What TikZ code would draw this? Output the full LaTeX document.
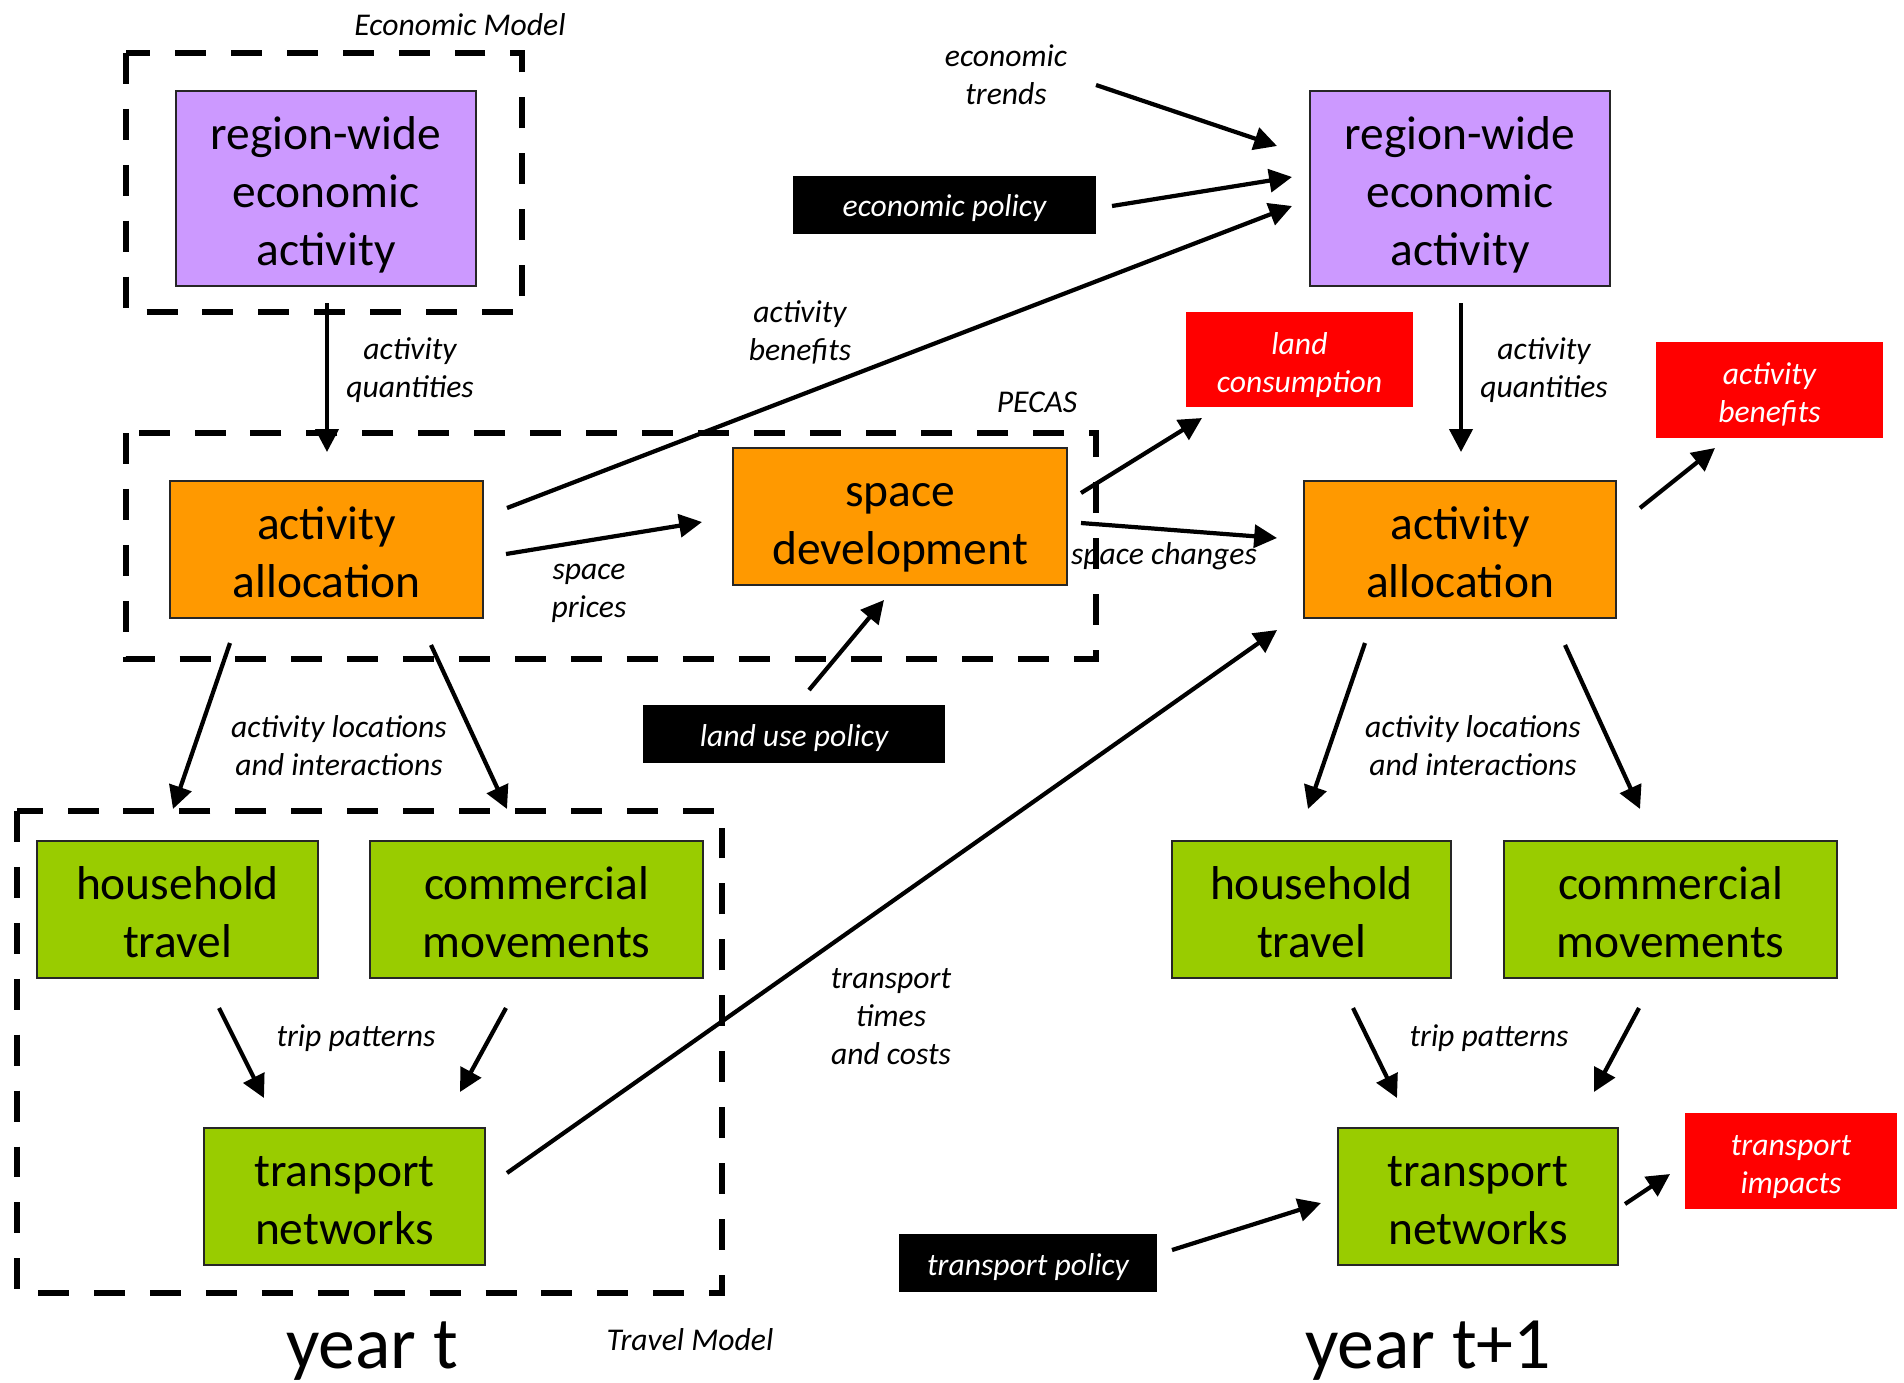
\documentclass[tikz,border=0pt]{standalone}
\usepackage{fontspec}
\setmainfont{Carlito}
\usetikzlibrary{arrows.meta}
\newcommand\bxfont{\fontsize{13.5}{16.4}\selectfont}
\newcommand\lbfont{\fontsize{9}{10.8}\selectfont\itshape}
\newcommand\yrfont{\fontsize{21}{25}\selectfont}
\newcommand\tl[2][-2.1pt]{\raisebox{#1}[\height][\depth]{\begin{tabular}{@{}c@{}}#2\end{tabular}}}
\definecolor{cpurple}{HTML}{CC99FF}
\definecolor{corange}{HTML}{FF9900}
\definecolor{cgreen}{HTML}{99CC00}
\definecolor{cred}{HTML}{FF0000}
\begin{document}
\begin{tikzpicture}[x=0.01cm,y=-0.01cm,
  box/.style={draw=black!85, line width=0.6pt, inner sep=0pt, font=\bxfont},
  pbox/.style={box, fill=cpurple},
  obox/.style={box, fill=corange},
  gbox/.style={box, fill=cgreen},
  rbox/.style={fill=cred, inner sep=0pt, text=white, font=\lbfont},
  kbox/.style={fill=black, inner sep=0pt, text=white, font=\lbfont},
  lbl/.style={inner sep=0pt, align=center, font=\lbfont},
  grp/.style={line width=1.5pt, dash pattern=on 8.8pt off 7.1pt},
  arr/.style={line width=1.2pt, -{Triangle[length=6.5pt,width=6.5pt]}}
]
\useasboundingbox (0,0) rectangle (1904,1382);

% group frames
\draw[grp] (126,53) rectangle (522,312);
\draw[grp] (126,433) rectangle (1096,659);
\draw[grp] (17,811) rectangle (722,1293);
\node[lbl] (lEM) at (460,25) {Economic Model};
\node[lbl] (lPE) at (1037,402) {PECAS};
\node[lbl] (lTM) at (690,1340) {Travel Model};

% year t
\node[pbox, minimum width=3cm, minimum height=1.95cm] (ecoL) at (326,188.5) {\tl{region-wide\\economic\\activity}};
\node[obox, minimum width=3.13cm, minimum height=1.37cm] (aaL) at (326.5,549.5) {\tl{activity\\allocation}};
\node[obox, minimum width=3.34cm, minimum height=1.37cm] (sd) at (900,516.5) {\tl{space\\development}};
\node[gbox, minimum width=2.81cm, minimum height=1.37cm] (htL) at (177.5,909.5) {\tl{household\\travel}};
\node[gbox, minimum width=3.33cm, minimum height=1.37cm] (cmL) at (536.5,909.5) {\tl{commercial\\movements}};
\node[gbox, minimum width=2.81cm, minimum height=1.37cm] (tnL) at (344.5,1196.4) {\tl{transport\\networks}};

% year t+1
\node[pbox, minimum width=3cm, minimum height=1.95cm] (ecoR) at (1460,188.5) {\tl{region-wide\\economic\\activity}};
\node[obox, minimum width=3.12cm, minimum height=1.37cm] (aaR) at (1460,549.5) {\tl{activity\\allocation}};
\node[gbox, minimum width=2.79cm, minimum height=1.37cm] (htR) at (1311.5,909.5) {\tl{household\\travel}};
\node[gbox, minimum width=3.33cm, minimum height=1.37cm] (cmR) at (1670.5,909.5) {\tl{commercial\\movements}};
\node[gbox, minimum width=2.80cm, minimum height=1.37cm] (tnR) at (1478,1196.4) {\tl{transport\\networks}};

% policies and outputs
\node[kbox, minimum width=3.03cm, minimum height=0.58cm] (ecopol) at (944.5,205) {\tl[-1.25pt]{economic policy}};
\node[kbox, minimum width=3.02cm, minimum height=0.58cm] (lup) at (794,734) {\tl[-1.25pt]{land use policy}};
\node[kbox, minimum width=2.58cm, minimum height=0.575cm] (trpol) at (1028,1263.2) {\tl[-1.25pt]{transport policy}};
\node[rbox, minimum width=2.27cm, minimum height=0.95cm] (landc) at (1299.5,359.5) {\tl[-1.8pt]{land\\consumption}};
\node[rbox, minimum width=2.27cm, minimum height=0.96cm] (actben) at (1769.5,390) {\tl[-1.8pt]{activity\\benefits}};
\node[rbox, minimum width=2.12cm, minimum height=0.957cm] (trimp) at (1791,1160.9) {\tl[-1.8pt]{transport\\impacts}};
\node[lbl] (trends) at (1006,74.5) {economic\\trends};

% connector labels
\node[lbl] (lq1) at (410,370.5) {activity\\quantities};
\node[lbl] (lq2) at (1544,370.5) {activity\\quantities};
\node[lbl] (lab) at (800,332.5) {activity\\benefits};
\node[lbl] (lsp) at (589,593.5) {space\\prices};
\node[lbl] (lsc) at (1164,556) {space changes};
\node[lbl] (lloc1) at (339,746) {activity locations\\and interactions};
\node[lbl] (lloc2) at (1473,746) {activity locations\\and interactions};
\node[lbl] (ltp1) at (356,1038.5) {trip patterns};
\node[lbl] (ltp2) at (1489,1038.5) {trip patterns};
\node[lbl] (ltt) at (891,1016.5) {transport\\times\\and costs};
\node[font=\yrfont, anchor=base, inner sep=0pt] (yt) at (372,1368) {year t};
\node[font=\yrfont, anchor=base, inner sep=0pt] (yt1) at (1428,1368) {year t+1};

% connector end points
\coordinate (c1s) at (327,303);   \coordinate (c1e) at (327,452);
\coordinate (c2s) at (507,508);   \coordinate (c2e) at (1292,206);
\coordinate (c3s) at (506,554);   \coordinate (c3e) at (702,522);
\coordinate (c4s) at (1096,85);   \coordinate (c4e) at (1277,146);
\coordinate (c5s) at (1112,206);  \coordinate (c5e) at (1292,177);
\coordinate (c6s) at (1461,303);  \coordinate (c6e) at (1461,452);
\coordinate (c7s) at (1081,493);  \coordinate (c7e) at (1202,418);
\coordinate (c8s) at (1081,523);  \coordinate (c8e) at (1277,538);
\coordinate (c9s) at (1640,508);  \coordinate (c9e) at (1715,448);
\coordinate (c10s) at (809,690);  \coordinate (c10e) at (884,600);
\coordinate (c11s) at (507,1173); \coordinate (c11e) at (1277,630);
\coordinate (c12s) at (230,643);  \coordinate (c12e) at (173,809);
\coordinate (c13s) at (431,645);  \coordinate (c13e) at (507,809);
\coordinate (c14s) at (219,1008); \coordinate (c14e) at (264,1098);
\coordinate (c15s) at (506,1008); \coordinate (c15e) at (460,1092);
\coordinate (c16s) at (1365,643); \coordinate (c16e) at (1308,809);
\coordinate (c17s) at (1565,645); \coordinate (c17e) at (1640,809);
\coordinate (c18s) at (1353,1008);\coordinate (c18e) at (1397,1098);
\coordinate (c19s) at (1639,1008);\coordinate (c19e) at (1594,1092);
\coordinate (c20s) at (1172,1250);\coordinate (c20e) at (1321,1203);
\coordinate (c21s) at (1625,1204);\coordinate (c21e) at (1670,1174);

\foreach \i in {1,...,21} {\draw[arr] (c\i s) -- (c\i e);}
\end{tikzpicture}
\end{document}
